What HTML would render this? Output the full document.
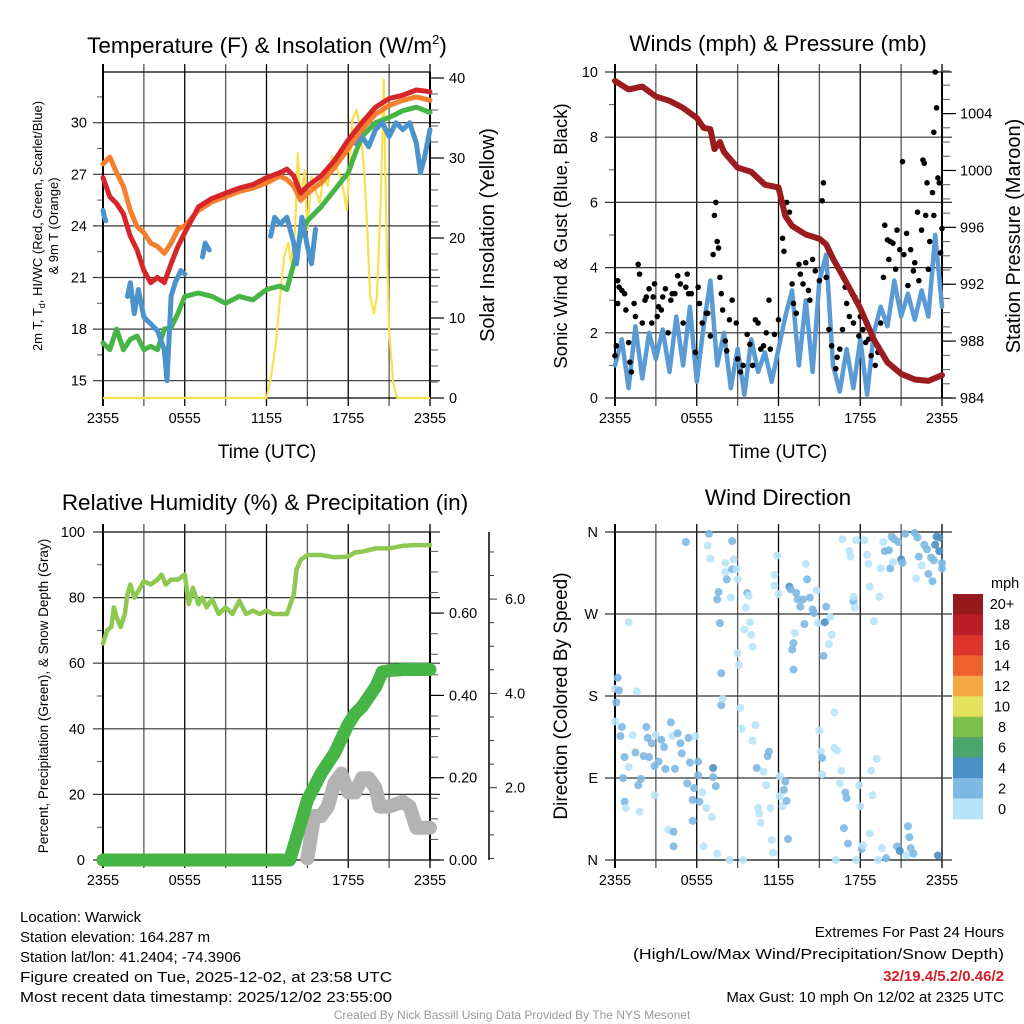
<!DOCTYPE html>
<html><head><meta charset="utf-8"><style>
html,body{margin:0;padding:0;background:#fff;}
svg{display:block;font-family:"Liberation Sans",sans-serif;}
</style></head><body>
<svg id="fig" width="1024" height="1024" viewBox="0 0 1024 1024" xmlns="http://www.w3.org/2000/svg">
<rect width="1024" height="1024" fill="#fff"/>
<g id="root"></g>
</svg>
<script>
// ---------- DATA ----------
const xTickLabels = ["2355","0555","1155","1755","2355"];
// Temperature panel
const tHours = [0,0.5,1,1.5,2,2.5,3,3.5,4,4.5,5,5.5,6,7,8,9,10,11,12,13,13.5,14,14.5,15,16,17,18,19,20,21,22,23,24];
const tempRed = [26.8,25.7,25.3,24.7,23.4,22.6,21.4,20.7,21.0,20.7,21.8,22.8,23.6,25.1,25.6,25.9,26.2,26.4,26.8,27.1,27.3,26.9,25.9,26.3,26.9,27.8,29.0,30.0,30.9,31.4,31.6,31.9,31.8];
const temp9m = [27.6,28.0,27.1,26.3,24.9,23.95,23.6,23.0,22.8,22.4,23.0,23.8,24.0,24.9,25.4,25.7,26.0,26.2,26.5,26.9,26.7,26.3,25.5,25.9,26.5,27.4,28.5,29.6,30.5,31.0,31.3,31.5,31.3];
const dewHours = [0,0.5,1,1.5,2,2.5,3,3.5,4,4.5,5,5.5,6,7,8,9,10,11,12,13,13.5,14,14.5,15,16,17,18,18.5,19,20,21,22,23,24];
const dewGreen = [17.2,16.8,18.0,16.8,17.4,17.6,16.8,17.0,16.8,18.0,18.1,18.9,19.9,20.1,19.9,19.5,19.9,19.7,20.3,20.5,20.3,21.8,23.4,24.3,25.1,26.1,27.1,28.2,29.2,30.0,30.3,30.7,30.9,30.6];
const wcHours = [0,0.1,0.2,null,0.6,null,1.8,2,2.3,2.6,3,3.5,4,4.5,4.7,5,5.3,5.7,6,null,7.3,7.5,7.8,null,8.5,null,12.3,12.6,13,13.5,14,14.2,14.6,15,15.3,15.6,null,18.5,19,19.5,20,20.5,21,21.5,22,22.5,23,23.3,23.6,24];
const wcBlue = [24.9,24.5,24.3,null,23.1,null,19.9,20.7,18.9,20.3,18.7,18.3,17.9,16.8,15.0,19.9,20.7,21.4,21.2,null,22.2,23.0,22.6,null,24.2,null,23.4,24.5,24.1,24.5,23.0,21.8,24.5,22.8,21.8,23.8,null,28.8,29.2,28.6,29.6,30.0,29.2,30.0,29.6,30.0,28.8,27.1,28.0,29.6];
const solarHours = [0,12,12.3,12.7,13,13.3,13.6,13.8,14.1,14.3,14.5,14.8,15,15.3,15.6,15.9,16.2,16.5,16.8,17.2,17.5,17.9,18.1,18.3,18.6,18.9,19.2,19.4,19.6,19.9,20.1,20.4,20.6,20.8,21,21.3,21.6,24];
const solar = [0,0,2.3,6.9,12.7,17.7,19.4,16.9,21.0,30.6,24.4,28.5,21.0,27.7,26.0,24.4,27.7,26.5,30.2,28.5,27.3,23.5,29.0,34.8,36.0,33.5,27.7,21.0,12.7,10.6,12.7,25.2,39.8,21.0,8.5,1.9,0,0];
// Winds panel
const presHours = [0,1,2,3,4,5,6,6.5,7,7.3,7.7,8,9,10,11,12,12.5,13,14,15,15.5,16,17,18,19,20,21,22,23,24];
const pressure = [1006.3,1005.7,1005.9,1005.2,1004.9,1004.4,1003.7,1003.0,1002.9,1001.5,1002.0,1001.3,1000.2,999.9,999.0,998.8,996.8,996.1,995.5,995.2,994.8,993.8,992.1,990.3,988.1,986.5,985.7,985.3,985.2,985.6];
const windHours = [0,0.5,1,1.5,2,2.5,3,3.5,4,4.5,5,5.5,6,6.5,7,7.5,8,8.5,9,9.5,10,10.5,11,11.5,12,12.5,13,13.5,14,14.5,15,15.5,16,16.5,17,17.5,18,18.5,19,19.5,20,20.5,21,21.5,22,22.5,23,23.5,24];
const windSpeed = [1.0,1.8,0.3,2.2,0.6,2.0,1.2,2.1,0.8,2.5,1.0,2.8,0.5,2.2,3.6,1.0,2.0,0.3,1.5,0.1,1.8,0.8,1.4,0.5,1.5,2.5,3.3,1.0,3.0,0.8,3.6,4.4,1.0,0.2,1.5,0.3,1.8,0.1,2.0,2.8,2.2,3.6,2.5,3.2,2.4,3.3,2.5,5.0,2.8];
const gustHours = [0,0.1,0.2,0.2,0.3,0.5,0.7,0.8,1.0,1.1,1.2,1.4,1.5,1.7,1.8,2.0,2.2,2.3,2.5,2.7,2.8,2.9,3.1,3.2,3.4,3.5,3.7,3.9,4.1,4.2,4.4,4.6,4.8,5.0,5.2,5.3,5.4,5.6,5.9,6.1,6.2,6.4,6.7,6.8,7.0,7.2,7.3,7.4,7.5,7.6,7.7,7.8,7.9,8.1,8.2,8.4,8.6,8.9,9.0,9.2,9.4,9.7,9.9,10.1,10.3,10.5,10.7,10.9,11.1,11.3,11.4,11.7,12.0,12.3,12.4,12.6,12.8,13.0,13.1,13.3,13.5,13.6,13.8,14.0,14.2,14.3,14.5,14.7,15.0,15.2,15.3,15.5,15.7,15.9,16.2,16.3,16.5,16.7,16.9,17.0,17.2,17.5,17.6,17.9,18.0,18.2,18.4,18.6,18.8,19.1,19.3,19.5,19.7,19.8,20.0,20.1,20.2,20.4,20.6,20.7,20.9,21.1,21.2,21.4,21.5,21.7,21.9,22.0,22.2,22.3,22.5,22.6,22.7,22.8,22.9,23.0,23.1,23.3,23.4,23.4,23.5,23.6,23.7,23.8,23.9,24.0];
const gustSpeed = [1.3,1.6,3.6,2.9,3.4,3.3,3.2,2.7,1.7,1.1,0.8,2.9,2.5,4.1,3.8,2.3,3.0,3.1,3.35,2.3,3.1,3.5,2.5,2.8,2.7,3.1,3.35,2.0,3.0,3.2,3.2,3.75,3.5,2.3,3.4,3.8,3.2,3.2,1.4,3.4,2.9,2.3,2.6,2.6,1.9,4.4,5.6,6.0,4.8,4.6,3.7,3.2,2.7,1.75,1.45,2.4,3.0,2.3,1.2,0.8,1.0,1.95,1.65,1.0,2.4,2.3,1.5,1.6,2.0,3.0,1.5,1.95,2.4,4.9,4.5,6.0,5.7,3.5,2.9,2.6,4.1,3.8,3.5,4.15,3.3,3.0,4.25,3.9,3.6,6.05,6.6,3.7,2.1,1.6,0.9,1.25,1.5,2.1,3.4,2.9,2.5,2.3,3.1,1.9,2.5,2.1,1.7,1.8,1.3,1.0,1.4,2.3,3.7,5.3,4.85,4.25,4.8,4.75,3.95,5.15,4.55,7.25,4.4,5.05,3.45,4.55,3.9,4.15,5.7,3.6,5.15,7.3,7.2,5.6,6.6,3.95,4.8,6.3,5.6,8.15,10.0,8.9,6.75,6.6,4.45,5.2];
// RH / precip panel
const rhHours = [0,0.3,0.6,0.8,1,1.3,1.6,1.8,2,2.3,2.6,3,3.5,4,4.3,4.6,5,5.5,6,6.3,6.6,7,7.3,7.6,8,8.5,9,9.5,10,10.5,11,11.5,12,12.5,13,13.5,14,14.2,14.5,15,16,17,18,18.5,19,20,20.5,21,22,23,24];
const rh = [66,70,71,77,74,71,75,81,84,80,82,85,84,85.5,87,84,85.5,85.5,87,78,83,78,80,77,79.5,75,77,75,79,75,76,75,76,75,75,75,81,88.5,91.5,93,93,92.3,92.5,93.8,94,95,95,95,95.8,96,96];
const precipHours = [0,13.7,14.3,15,16,17,18,18.5,19,20,20.5,21,22,24];
const precip = [0,0,0.065,0.146,0.21,0.26,0.33,0.356,0.372,0.42,0.457,0.46,0.463,0.463];
const snowHours = [15,15.5,16,16.5,17,17.5,18,18.5,19,19.5,20,20.3,21,22,22.5,23,24];
const snowDepth = [0.5,1.4,1.4,1.6,2.1,2.3,1.9,1.9,2.2,2.2,2.0,1.6,1.6,1.7,1.6,1.15,1.15];
// Wind direction panel
const dirHours = [0.2,0,0.3,0.1,0,0.5,0.4,0.7,0.6,0.7,0.8,1.0,1.3,1.0,1.5,1.6,1.7,1.8,1.9,2.1,2.3,2.4,2.5,2.7,2.9,3.0,3.2,2.9,3.4,3.6,3.7,3.9,4.1,4.2,4.3,4.3,4.4,4.6,4.8,4.9,5.2,5.3,5.4,5.5,5.7,5.7,5.9,5.8,6.1,6.1,6.2,6.4,6.5,6.7,6.8,6.9,7.0,7.1,7.2,7.2,7.4,7.5,7.6,7.5,7.7,7.8,7.8,7.9,8.1,8.1,8.2,8.4,8.5,8.6,8.7,8.6,8.9,9.0,9.0,9.1,9.2,9.3,9.4,9.5,9.6,9.7,9.8,9.9,10.0,10.1,10.1,10.3,10.4,10.5,10.6,10.7,10.9,11.1,11.2,11.3,11.4,11.5,11.6,11.7,11.7,11.9,12.0,12.1,12.1,12.3,12.4,12.5,12.6,12.7,12.8,12.9,13.0,13.1,13.1,13.2,13.3,13.4,13.6,13.8,13.9,14.0,14.1,14.3,14.5,14.6,14.8,14.9,15.0,15.1,15.2,15.2,15.3,15.4,15.5,15.7,15.8,15.9,16.1,16.1,16.2,16.3,16.5,16.6,16.7,16.8,16.9,17.0,17.1,17.2,17.3,17.5,17.5,17.6,17.7,17.7,17.9,18.0,18.1,18.2,18.3,18.5,18.6,18.7,18.7,18.8,18.9,19.0,19.2,19.3,19.4,19.5,19.6,19.7,19.8,19.9,20.1,20.2,20.3,20.4,20.5,20.7,20.8,20.9,21.0,21.1,21.3,21.4,21.5,21.6,21.7,21.9,22.0,22.1,22.2,22.3,22.5,22.7,22.9,23.0,23.2,23.3,23.4,23.5,23.6,23.7,23.8,23.8,24.0,24.0];
const dirDeg = [200,188,186,173,152,146,136,113,90,64,57,261,137,102,118,185,82,53,89,114,146,134,113,128,103,137,108,71,132,124,100,33,151,136,31,15,100,139,128,117,349,84,134,107,66,43,136,79,108,93,64,74,15,57,345,358,331,47,101,91,81,7,294,286,260,205,170,177,326,316,308,0,288,319,330,350,319,308,227,214,167,144,0,253,277,293,290,261,247,234,131,148,101,57,51,41,97,82,114,119,57,22,8,313,301,334,292,92,70,59,77,86,65,23,300,297,231,238,209,249,293,286,278,286,259,325,308,288,275,271,296,260,142,119,112,94,224,261,278,237,267,247,162,123,0,120,84,98,352,35,74,68,18,339,333,284,289,277,351,0,82,59,12,16,351,335,325,300,29,98,71,262,111,0,289,320,13,349,339,2,340,320,355,327,352,15,349,10,330,326,358,5,37,25,13,7,359,309,354,333,323,346,341,314,332,306,329,346,355,5,354,339,320,326];
const dirSpeed = [2.5,1,2.5,2.5,1,2.5,2.5,2.5,2.5,2.5,1,1,1,1,2.5,1,2.5,1,2.5,2.5,3,2.5,2.5,2.5,2.5,1,2.5,1,2.5,2.5,2.5,1,3,1,2.5,3,2.5,2.5,2.5,2.5,3,2.5,3,2.5,2.5,3,1,2.5,2.5,2.5,2.5,1,1,1,1,2.5,1,1,5,2.5,2.5,1,2.5,2.5,3,2.5,2.5,1,1,1,2.5,1,1,3,1,3,1,1,1,1,1,1,1,1,1,3,1,1,1,1,1,1,2.5,1,1,1,1,1,2.5,2.5,1,1,1,1,1,1,1,1,1,1,2.5,2.5,3,3,5,3,3,3,3,1,2.5,2.5,2.5,2.5,3,1,2.5,2.5,3,3,1,1,1,1,2.5,1,3,5,2.5,1,1,1,1,1,1,1,1,1,1,3,3,3,2.5,1,1,2.5,1,1,1,1,1,1,2.5,1,1,1,1,1,1,1,1,1,1,1,1,1,1,1,2.5,2.5,3,2.5,2.5,1,2.5,2.5,3,5,5,2.5,3,1,2.5,3,3,3,2.5,1,3,2.5,1,3,3,3,3,2.5,3,5,5,5,5,5,2.5,2.5,2.5];
const cbLabels = ["20+","18","16","14","12","10","8","6","4","2","0"];
const cbColors = ["#941a1d","#bb1e26","#dc342a","#ef6230","#f6a745","#e6e15a","#7cc04b","#4aa56e","#4a8fc7","#7db8e3","#b8e3f8"];

// ---------- DRAWING ----------
const NS="http://www.w3.org/2000/svg";
const root=document.getElementById('root');
function el(tag,attrs,parent){const e=document.createElementNS(NS,tag);for(const k in attrs)e.setAttribute(k,attrs[k]);(parent||root).appendChild(e);return e;}
function txt(s,attrs,parent){const e=el('text',attrs,parent);e.textContent=s;return e;}
function pathFrom(xs,ys,fx,fy){let d="",pen=false;for(let i=0;i<xs.length;i++){if(xs[i]===null||ys[i]===null){pen=false;continue;}d+=(pen?"L":"M")+fx(xs[i]).toFixed(1)+","+fy(ys[i]).toFixed(1);pen=true;}return d;}
function speedColor(s){const i=Math.min(10,Math.floor(s/2));return cbColors[10-i];}

function panelFrame(g,P,hx){
  for(let h=0;h<=24;h+=3){
    const x=hx(h);
    const l=el('line',{x1:x,y1:P.y0-8,x2:x,y2:P.y1+8,stroke:(h%6===0)?"#000":"#555","stroke-width":(h===0)?2:1.3},g);
    
    
  }
  for(let i=0;i<5;i++){
    const t=txt(xTickLabels[i],{x:hx(i*6),y:P.y1+25,"font-size":14.5,"text-anchor":"middle"},g);
    
    
  }
  el('line',{x1:P.x0,y1:P.y0,x2:P.x1,y2:P.y0,stroke:"#000","stroke-width":1.3},g);
  el('line',{x1:P.x0,y1:P.y1,x2:P.x1,y2:P.y1,stroke:"#000","stroke-width":1.3},g);
}
function hgrid(g,P,y,label,xLab){
  el('line',{x1:P.x0-10,y1:y,x2:P.x1+10,y2:y,stroke:"#333","stroke-width":1.2},g);
  const t=txt(label,{x:xLab,y:y+5,"font-size":14.5,"text-anchor":"end"},g);
  
  
}
function rightTicks(g,P,ys,labels,minor,xL){
  el('line',{x1:P.x1,y1:P.y0,x2:P.x1,y2:P.y1,stroke:"#000","stroke-width":2},g);
  minor.forEach(y=>el('line',{x1:P.x1,y1:y,x2:P.x1+8,y2:y,stroke:"#555","stroke-width":1},g));
  ys.forEach((y,i)=>{el('line',{x1:P.x1,y1:y,x2:P.x1+14,y2:y,stroke:"#000","stroke-width":1.2},g);
    const t=txt(labels[i],{x:xL,y:y+5,"font-size":14.5},g);
    
    });
}
function rotTitle(g,s,x,y,size){return txt(s,{x:x,y:y,"font-size":size,"text-anchor":"middle",transform:`rotate(-90 ${x} ${y})`},g);}

// ===== Panel 1: Temperature =====
{
const P={x0:103,x1:430,y0:72,y1:398};
const hx=h=>P.x0+h*(P.x1-P.x0)/24;
const ty=v=>380.7-(v-15)*17.2;
const sy=s=>398-s*8.0;
const g=el('g',{});
const title=txt("Temperature (F) & Insolation (W/m",{x:267,y:53,"font-size":22.5,"text-anchor":"middle"},g);
const sup=el('tspan',{dy:-9,"font-size":13},title);sup.textContent="2";
const cl=el('tspan',{dy:9},title);cl.textContent=")";

panelFrame(g,P,hx);
[15,18,21,24,27,30].forEach(v=>hgrid(g,P,ty(v),String(v),87));
const minorL=[];for(let v=13.5;v<=33;v+=1.5){const y=ty(v);if(y>=P.y0&&y<=P.y1)minorL.push(y);}
minorL.forEach(y=>el('line',{x1:P.x0-6,y1:y,x2:P.x0,y2:y,stroke:"#555","stroke-width":1},g));
el('line',{x1:P.x0,y1:P.y0,x2:P.x0,y2:P.y1,stroke:"#000","stroke-width":2},g);
const minR=[];for(let s=0;s<=42;s+=2){const y=sy(s);if(y>=P.y0)minR.push(y);}
rightTicks(g,P,[0,10,20,30,40].map(sy),["0","10","20","30","40"],minR,449);
const ys=el('path',{d:pathFrom(solarHours,solar,hx,sy),fill:"none",stroke:"#f9e04e","stroke-width":2.2,"stroke-linejoin":"round"},g);

const gr=el('path',{d:pathFrom(dewHours,dewGreen,hx,ty),fill:"none",stroke:"#46b545","stroke-width":5,"stroke-linejoin":"round","stroke-linecap":"round"},g);

const bl=el('path',{d:pathFrom(wcHours,wcBlue,hx,ty),fill:"none",stroke:"#4a93cc","stroke-width":5,"stroke-linejoin":"round","stroke-linecap":"round"},g);

const or=el('path',{d:pathFrom(tHours,temp9m,hx,ty),fill:"none",stroke:"#f47f2e","stroke-width":5,"stroke-linejoin":"round","stroke-linecap":"round"},g);

const rd=el('path',{d:pathFrom(tHours,tempRed,hx,ty),fill:"none",stroke:"#d7262a","stroke-width":5,"stroke-linejoin":"round","stroke-linecap":"round"},g);

const yt=txt("2m T, T",{x:0,y:0,"font-size":13,"text-anchor":"middle",transform:"translate(42 226) rotate(-90)"},g);
const sb=el('tspan',{dy:3,"font-size":9},yt);sb.textContent="d";
const rest=el('tspan',{dy:-3},yt);rest.textContent=", HI/WC (Red, Green, Scarlet/Blue)";

const yt2=rotTitle(g,"& 9m T (Orange)",58,226,13);

const rt=rotTitle(g,"Solar Insolation (Yellow)",494,235,20);

const xt=txt("Time (UTC)",{x:267,y:458,"font-size":19,"text-anchor":"middle"},g);

}

// ===== Panel 2: Winds =====
{
const P={x0:615,x1:942,y0:72,y1:398};
const hx=h=>P.x0+h*(P.x1-P.x0)/24;
const wy=v=>398-v*32.6;
const py=p=>398-(p-984)*14.22;
const g=el('g',{});
const t=txt("Winds (mph) & Pressure (mb)",{x:778,y:51,"font-size":22.5,"text-anchor":"middle"},g);

panelFrame(g,P,hx);
[0,2,4,6,8,10].forEach(v=>hgrid(g,P,wy(v),String(v),598));
const minorL=[];for(let v=1;v<10;v+=2)minorL.push(wy(v));
minorL.forEach(y=>el('line',{x1:P.x0-6,y1:y,x2:P.x0,y2:y,stroke:"#555","stroke-width":1},g));
el('line',{x1:P.x0,y1:P.y0,x2:P.x0,y2:P.y1,stroke:"#000","stroke-width":2},g);
const minR=[];for(let p=984;p<=1007;p+=1){minR.push(py(p));}
rightTicks(g,P,[984,988,992,996,1000,1004].map(py),["984","988","992","996","1000","1004"],minR,960);
const wl=el('path',{d:pathFrom(windHours,windSpeed,hx,wy),fill:"none",stroke:"#5a9bd5","stroke-width":4.5,"stroke-linejoin":"round","stroke-linecap":"round"},g);

for(let i=0;i<gustHours.length;i++){
  const c=el('circle',{cx:hx(gustHours[i]),cy:wy(gustSpeed[i]),r:2.8,fill:"#000"},g);
  
  
}
const pl=el('path',{d:pathFrom(presHours,pressure,hx,py),fill:"none",stroke:"#9b1b1e","stroke-width":6,"stroke-linejoin":"round","stroke-linecap":"round"},g);

const yt=rotTitle(g,"Sonic Wind & Gust (Blue, Black)",567,236,18.5);

const rt=rotTitle(g,"Station Pressure (Maroon)",1020,236,20);

const xt=txt("Time (UTC)",{x:778,y:458,"font-size":19,"text-anchor":"middle"},g);

}

// ===== Panel 3: RH & Precip =====
{
const P={x0:103,x1:430,y0:532,y1:860};
const hx=h=>P.x0+h*(P.x1-P.x0)/24;
const ry=v=>860-v*3.28;
const pry=v=>860-v*411.5;
const sny=v=>882-v*47.15;
const g=el('g',{});
const t=txt("Relative Humidity (%) & Precipitation (in)",{x:265,y:510,"font-size":22.5,"text-anchor":"middle"},g);

panelFrame(g,P,hx);
[0,20,40,60,80,100].forEach(v=>hgrid(g,P,ry(v),String(v),85));
const minorL=[];for(let v=10;v<100;v+=20)minorL.push(ry(v));
minorL.forEach(y=>el('line',{x1:P.x0-6,y1:y,x2:P.x0,y2:y,stroke:"#555","stroke-width":1},g));
el('line',{x1:P.x0,y1:P.y0,x2:P.x0,y2:P.y1,stroke:"#000","stroke-width":2},g);
const minR=[];for(let v=0;v<=0.78;v+=0.05)minR.push(pry(v));
rightTicks(g,P,[0,0.2,0.4,0.6].map(pry),["0.00","0.20","0.40","0.60"],minR,449);
el('line',{x1:489,y1:P.y0,x2:489,y2:P.y1,stroke:"#000","stroke-width":1.5},g);
for(let v=0.5;v<=7;v+=0.5){const y=sny(v);if(y<P.y0||y>P.y1)continue;el('line',{x1:489,y1:y,x2:v%2===0?497:494,y2:y,stroke:"#333","stroke-width":1},g);}
[2,4,6].forEach(v=>{const tl=txt(v.toFixed(1),{x:505,y:sny(v)+5,"font-size":14.5},g);});
const rl=el('path',{d:pathFrom(rhHours,rh,hx,ry),fill:"none",stroke:"#8dc850","stroke-width":4.5,"stroke-linejoin":"round","stroke-linecap":"round"},g);

const sl=el('path',{d:pathFrom(snowHours,snowDepth,hx,sny),fill:"none",stroke:"#b3b3b3","stroke-width":14,"stroke-linejoin":"round","stroke-linecap":"round"},g);

const pl=el('path',{d:pathFrom(precipHours,precip,hx,pry),fill:"none",stroke:"#46b545","stroke-width":13,"stroke-linejoin":"round","stroke-linecap":"round"},g);

const yt=rotTitle(g,"Percent, Precipitation (Green), & Snow Depth (Gray)",48,696,13.5);

}

// ===== Panel 4: Wind direction =====
{
const P={x0:615,x1:942,y0:532,y1:860};
const hx=h=>P.x0+h*(P.x1-P.x0)/24;
const dy=d=>860-d*0.9111;
const g=el('g',{});
const t=txt("Wind Direction",{x:778,y:505,"font-size":22.5,"text-anchor":"middle"},g);

panelFrame(g,P,hx);
[[0,"N"],[90,"E"],[180,"S"],[270,"W"],[360,"N"]].forEach(a=>hgrid(g,P,dy(a[0]),a[1],598));
el('line',{x1:P.x0,y1:P.y0,x2:P.x0,y2:P.y1,stroke:"#000","stroke-width":2},g);
for(let i=0;i<dirHours.length;i++){
  const c=el('circle',{cx:hx(dirHours[i]),cy:dy(dirDeg[i]),r:4,fill:speedColor(dirSpeed[i]),"fill-opacity":0.9},g);
  
  
}
const yt=rotTitle(g,"Direction (Colored By Speed)",567,696,19);

const cb=el('g',{},g);
const bh=(819-594)/cbColors.length;
for(let i=0;i<cbColors.length;i++){
  const r=el('rect',{x:953,y:594+i*bh,width:30,height:bh+0.3,fill:cbColors[i]},cb);
  
  
  const l=txt(cbLabels[i],{x:1002,y:594+i*bh+bh/2+5,"font-size":14.5,"text-anchor":"middle"},cb);
  
  
}
const u=txt("mph",{x:991,y:588,"font-size":14.5},cb);

}
</script>
<svg width="1024" height="1024" viewBox="0 0 1024 1024" style="position:absolute;left:0;top:0;font-family:'Liberation Sans',sans-serif" xmlns="http://www.w3.org/2000/svg">
<g font-size="15" fill="#000">
<text x="20" y="922">Location: Warwick</text>
<text x="20" y="942">Station elevation: 164.287 m</text>
<text x="20" y="962">Station lat/lon: 41.2404; -74.3906</text>
<text x="20" y="982" textLength="372" lengthAdjust="spacingAndGlyphs">Figure created on Tue, 2025-12-02, at 23:58 UTC</text>
<text x="20" y="1002" textLength="372" lengthAdjust="spacingAndGlyphs">Most recent data timestamp: 2025/12/02 23:55:00</text>
</g>
<g font-size="15" text-anchor="end">
<text x="1004" y="937">Extremes For Past 24 Hours</text>
<text x="1004" y="959" textLength="371" lengthAdjust="spacingAndGlyphs">(High/Low/Max Wind/Precipitation/Snow Depth)</text>
<text x="1004" y="981" fill="#d4202a" font-weight="bold">32/19.4/5.2/0.46/2</text>
<text x="1004" y="1002">Max Gust: 10 mph On 12/02 at 2325 UTC</text>
</g>
<text x="512" y="1019" font-size="12" fill="#999" text-anchor="middle">Created By Nick Bassill Using Data Provided By The NYS Mesonet</text>
</svg>
</body></html>
